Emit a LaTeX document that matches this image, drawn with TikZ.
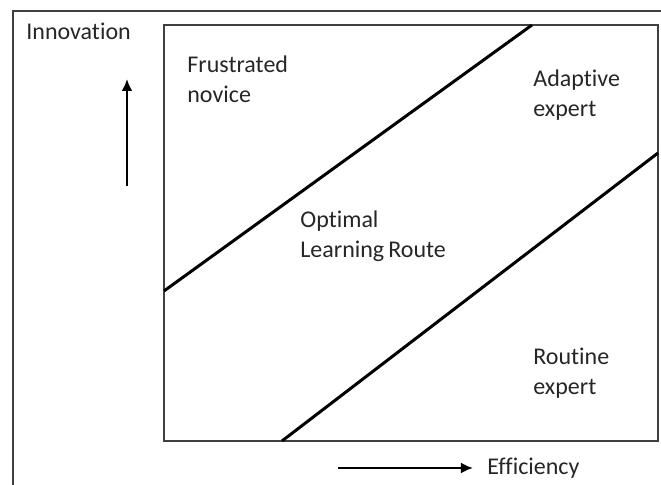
\documentclass[tikz,border=0pt]{standalone}
\usepackage{fontspec}
\setmainfont[Ligatures=NoCommon]{Carlito}
\usetikzlibrary{arrows.meta}
\tikzset{
    lbl/.style={align=left, anchor=west, inner sep=0pt, font=\fontsize{12}{15}\selectfont, text=black!85},
    frame/.style={draw=black!75, line width=0.8pt},
    diag/.style={draw=black, line width=1.5pt},
    axis/.style={draw=black, line width=1.3pt, -{Latex[length=6pt, width=5.5pt]}}
}
\begin{document}
\begin{tikzpicture}[x=0.5pt, y=-0.5pt]
    \useasboundingbox (0,0) rectangle (661,485);
    % outer frame (cut off at the right and bottom)
    \draw[frame] (13,485) -- (13,11) -- (662,11);
    % inner box
    \coordinate (bl) at (164,441);
    \coordinate (tr) at (658,25);
    \draw[frame] (bl) rectangle (tr);
    % diagonals
    \coordinate (a1) at (164,291);
    \coordinate (a2) at (532,25);
    \coordinate (b1) at (282,441);
    \coordinate (b2) at (658,153);
    \draw[diag] (a1) -- (a2);
    \draw[diag] (b1) -- (b2);
    % axes
    \coordinate (up1) at (127,186);
    \coordinate (up2) at (127,79);
    \coordinate (rt1) at (338,468);
    \coordinate (rt2) at (473,468);
    \draw[axis] (up1) -- (up2);
    \draw[axis] (rt1) -- (rt2);
    % labels
    \node[lbl] (innov) at (26,31) {Innovation};
    \node[lbl] (effic) at (487,468) {Efficiency};
    \node[lbl] (novice) at (187,79) {Frustrated\\novice};
    \node[lbl] (adapt) at (533,95) {Adaptive\\expert};
    \node[lbl] (route) at (300,236) {Optimal\\Learning\,Route};
    \node[lbl] (routine) at (533,373) {Routine\\expert};
\end{tikzpicture}
\end{document}
